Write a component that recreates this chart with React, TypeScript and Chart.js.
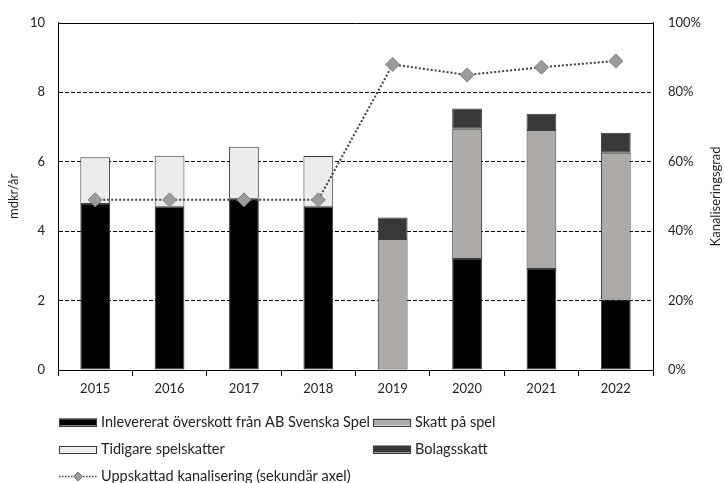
import React, { useEffect, useRef } from "react";
import { Chart, registerables } from "chart.js";

Chart.register(...registerables);

const YEARS = ["2015", "2016", "2017", "2018", "2019", "2020", "2021", "2022"];
const INLEVERERAT = [4.78, 4.7, 4.93, 4.7, null, 3.2, 2.91, 2.03];
const SKATT_PA_SPEL = [null, null, null, null, 3.77, 3.75, 4.0, 4.23];
const TIDIGARE = [1.35, 1.47, 1.5, 1.46, null, null, null, null];
const BOLAGSSKATT = [null, null, null, null, 0.62, 0.58, 0.47, 0.57];
const KANALISERING = [49, 49, 49, 49, 88, 85, 87.2, 89];

const LABELS = [
  "Inlevererat överskott från AB Svenska Spel",
  "Skatt på spel",
  "Tidigare spelskatter",
  "Bolagsskatt",
  "Uppskattad kanalisering (sekundär axel)",
];
const Y_TITLE = "mdkr/år";
const Y1_TITLE = "Kanaliseringsgrad";

const FONT = "Lato";
const TEXT = "#222";
const COLORS = ["#000000", "#adaaa8", "#ececec", "#3a3836"];
const EDGE = "#3a3a3a";
const MARKER = "#9c9c9c";
const MARKER_EDGE = "#7c7c7c";

const overlay = {
  id: "overlay",
  beforeDatasetsDraw(chart: any) {
    const { ctx, chartArea: a } = chart;
    ctx.save();
    ctx.strokeStyle = "#000";
    ctx.lineWidth = 1;
    ctx.setLineDash([]);
    ctx.beginPath();
    ctx.moveTo(a.left, Math.round(a.top) + 0.5);
    ctx.lineTo(a.right, Math.round(a.top) + 0.5);
    ctx.stroke();
    ctx.restore();
  },
  afterDraw(chart: any) {
    const { ctx, chartArea: a } = chart;
    ctx.save();
    ctx.font = `13px ${FONT}`;
    ctx.fillStyle = TEXT;
    ctx.textAlign = "center";
    ctx.textBaseline = "middle";
    const midY = (a.top + a.bottom) / 2;
    ctx.save();
    ctx.translate(14, midY);
    ctx.rotate(-Math.PI / 2);
    ctx.fillText(Y_TITLE, 0, 0);
    ctx.restore();
    ctx.save();
    ctx.translate(716, midY);
    ctx.rotate(-Math.PI / 2);
    ctx.fillText(Y1_TITLE, 0, 0);
    ctx.restore();

    // legend
    ctx.font = `14.5px ${FONT}`;
    const boxes = [
      { i: 0, x: 59, y: 422 },
      { i: 1, x: 373, y: 422 },
      { i: 2, x: 59, y: 449 },
      { i: 3, x: 373, y: 449 },
    ];
    ctx.textAlign = "left";
    for (const b of boxes) {
      ctx.fillStyle = COLORS[b.i];
      ctx.fillRect(b.x, b.y - 3.5, 38, 7);
      ctx.strokeStyle = EDGE;
      ctx.lineWidth = 1;
      ctx.strokeRect(b.x + 0.5, Math.round(b.y - 3.5) + 0.5, 37, 7);
      ctx.fillStyle = TEXT;
      ctx.fillText(LABELS[b.i], b.x + 42, b.y);
    }
    const ly = 476.5;
    ctx.strokeStyle = "#404040";
    ctx.lineWidth = 1.5;
    ctx.setLineDash([1.5, 1.5]);
    ctx.beginPath();
    ctx.moveTo(59, ly);
    ctx.lineTo(97, ly);
    ctx.stroke();
    ctx.setLineDash([]);
    ctx.fillStyle = MARKER;
    ctx.strokeStyle = MARKER_EDGE;
    ctx.lineWidth = 1;
    ctx.beginPath();
    ctx.moveTo(78, ly - 4.5);
    ctx.lineTo(82.5, ly);
    ctx.lineTo(78, ly + 4.5);
    ctx.lineTo(73.5, ly);
    ctx.closePath();
    ctx.fill();
    ctx.stroke();
    ctx.fillStyle = TEXT;
    ctx.fillText(LABELS[4], 101, ly);
    ctx.restore();
  },
};

export default function App() {
  const ref = useRef<HTMLCanvasElement | null>(null);
  useEffect(() => {
    if (!ref.current) return;
    const barDs = (label: string, data: any[], i: number) => ({
      type: "bar" as const,
      label,
      data,
      backgroundColor: COLORS[i],
      borderColor: EDGE,
      borderWidth: 1,
      borderSkipped: false,
      yAxisID: "y",
      stack: "s",
      order: 1,
      barPercentage: 0.4,
      categoryPercentage: 1,
    });
    const chart = new Chart(ref.current, {
      type: "bar",
      data: {
        labels: YEARS,
        datasets: [
          {
            type: "line",
            label: LABELS[4],
            data: KANALISERING,
            yAxisID: "y1",
            order: 0,
            borderColor: "#404040",
            borderWidth: 2,
            borderDash: [2, 2],
            pointStyle: "rectRot",
            pointRadius: 7,
            pointBackgroundColor: MARKER,
            pointBorderColor: MARKER_EDGE,
            pointBorderWidth: 1,
            fill: false,
            tension: 0,
          } as any,
          barDs(LABELS[0], INLEVERERAT, 0),
          barDs(LABELS[1], SKATT_PA_SPEL, 1),
          barDs(LABELS[2], TIDIGARE, 2),
          barDs(LABELS[3], BOLAGSSKATT, 3),
        ],
      },
      options: {
        animation: false,
        responsive: true,
        maintainAspectRatio: false,
        layout: { padding: { top: 21, left: 0, right: 0, bottom: 0 } },
        plugins: { legend: { display: false }, tooltip: { enabled: false } },
        scales: {
          x: {
            stacked: true,
            offset: true,
            grid: {
              offset: true,
              drawOnChartArea: false,
              drawTicks: true,
              tickLength: 6,
              color: "#000",
            },
            border: { display: true, color: "#000", width: 1 },
            ticks: { color: TEXT, font: { family: FONT, size: 13 }, padding: 5 },
            afterFit: (s: any) => {
              s.height = 113;
            },
          },
          y: {
            stacked: true,
            min: 0,
            max: 10,
            position: "left",
            grid: {
              drawTicks: false,
              color: (c: any) =>
                c.tick && (c.tick.value === 0 || c.tick.value === 10) ? "rgba(0,0,0,0)" : "#000",
              lineWidth: 1,
            },
            border: { display: true, color: "#000", width: 1, dash: [4, 2] },
            ticks: { stepSize: 2, color: TEXT, font: { family: FONT, size: 13 }, padding: 13 },
            afterFit: (s: any) => {
              s.width = 58;
            },
          },
          y1: {
            min: 0,
            max: 100,
            position: "right",
            grid: { drawOnChartArea: false, drawTicks: false },
            border: { display: true, color: "#000", width: 1 },
            ticks: {
              stepSize: 20,
              color: TEXT,
              font: { family: FONT, size: 13 },
              padding: 15,
              callback: (v: any) => `${v}%`,
            },
            afterFit: (s: any) => {
              s.width = 71;
            },
          },
        },
      } as any,
      plugins: [overlay],
    });
    return () => chart.destroy();
  }, []);
  return (
    <div style={{ position: "absolute", left: 0, top: 0, width: 724, height: 483 }}>
      <canvas ref={ref} />
    </div>
  );
}
